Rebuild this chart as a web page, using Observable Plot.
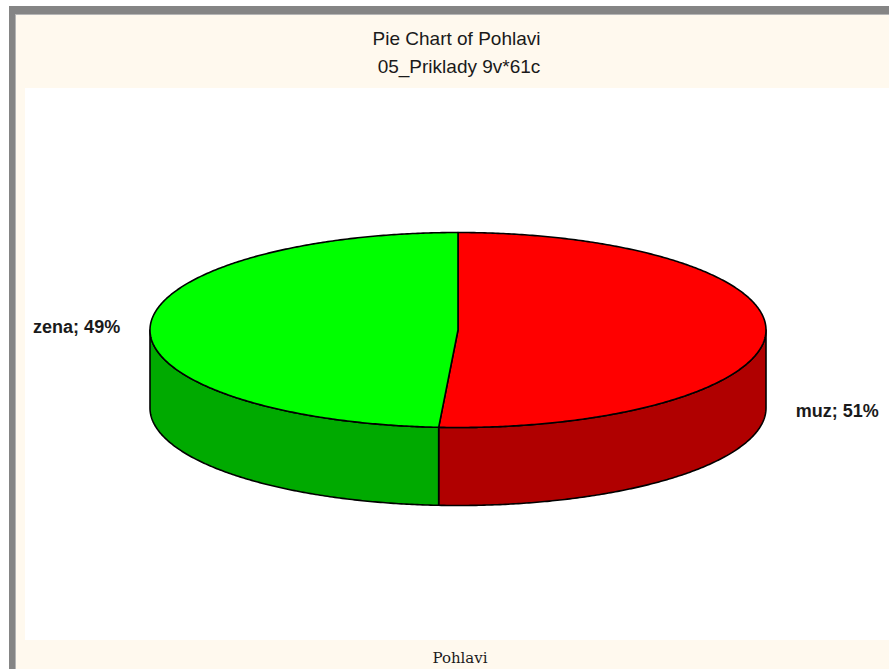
<!DOCTYPE html>
<html>
<head>
<meta charset="utf-8">
<script src="https://cdn.jsdelivr.net/npm/d3@7"></script>
<script src="https://cdn.jsdelivr.net/npm/@observablehq/plot@0.6"></script>
<style>
  html, body { margin: 0; padding: 0; background: #ffffff; width: 889px; height: 669px; overflow: hidden; position: relative; }
  #frame { position: absolute; left: 9px; top: 6px; width: 900px; height: 680px;
           background: #fff9ee; border-left: 6px solid #858585; border-top: 8px solid #858585;
           box-shadow: inset 1px 1px 0 #b5b5b5; }
  .t { position: absolute; width: 600px; text-align: center; font-family: "Liberation Sans", Arial, sans-serif;
       font-size: 19px; line-height: 19px; color: #1a1a1a; white-space: nowrap; }
  #plot { position: absolute; left: 25px; top: 88px; width: 864px; height: 552px; background: #ffffff; }
  #foot { position: absolute; left: 160px; width: 600px; top: 649px; text-align: center;
          font-family: "DejaVu Serif", "Liberation Serif", serif; font-size: 15px; line-height: 18px; color: #1a1a1a; }
</style>
</head>
<body>
<div id="frame"></div>
<div class="t" style="left:156.5px; top:29px;">Pie Chart of Pohlavi</div>
<div class="t" style="left:159px; top:57px;">05_Priklady 9v*61c</div>
<div id="plot"></div>
<div id="foot">Pohlavi</div>
<script>
// ---- data ----
const categories = ["muz", "zena"];
const percents = [51, 49];
const labels = ["muz; 51%", "zena; 49%"];
// ---- palette ----
const topColors = ["#ff0000", "#00ff00"];
const sideColors = ["#b00000", "#00aa00"];

// ---- 3D projection settings (unit radius) ----
const TILT = 97.5 / 308;   // vertical squash of the disc
const DEPTH = 78 / 308;    // thickness of the disc

const total = d3.sum(percents);
const slices = [];
let acc = 0;
categories.forEach((c, i) => {
  const a0 = acc / total * 2 * Math.PI;
  acc += percents[i];
  const a1 = acc / total * 2 * Math.PI;
  slices.push({cat: c, a0, a1, i});
});

const pt = (t, drop) => ({x: Math.sin(t), y: -TILT * Math.cos(t) + drop});
function arc(a, b, drop) {
  const n = Math.max(2, Math.ceil(Math.abs(b - a) / (Math.PI / 360)));
  const out = [];
  for (let k = 0; k <= n; k++) out.push(pt(a + (b - a) * k / n, drop));
  return out;
}

const marks = [];
// side faces (front half only)
slices.forEach(s => {
  const a = Math.max(s.a0, Math.PI / 2), b = Math.min(s.a1, 3 * Math.PI / 2);
  if (b > a) {
    const poly = [...arc(a, b, 0), ...arc(b, a, DEPTH)];
    poly.push(poly[0]);
    marks.push(Plot.line(poly, {x: "x", y: "y", fill: sideColors[s.i], stroke: "#000", strokeWidth: 1.6,
      strokeLinejoin: "round", curve: "linear"}));
  }
});
// top faces
slices.forEach(s => {
  const poly = [{x: 0, y: 0}, ...arc(s.a0, s.a1, 0), {x: 0, y: 0}];
  marks.push(Plot.line(poly, {x: "x", y: "y", fill: topColors[s.i], stroke: "#000", strokeWidth: 1.6,
    strokeLinejoin: "round", curve: "linear"}));
});
// labels
slices.forEach(s => {
  const m = (s.a0 + s.a1) / 2;
  const c = Math.cos(m), sn = Math.sin(m);
  const d = [{x: sn, y: -TILT * c + (c < 0 ? DEPTH : 0), label: labels[s.i]}];
  marks.push(Plot.text(d, {x: "x", y: "y", text: "label", dx: sn >= 0 ? 30 : -30,
    textAnchor: sn >= 0 ? "start" : "end", lineAnchor: "middle",
    fontSize: 18, fontWeight: "bold", fill: "#1a1a1a"}));
});

const chart = Plot.plot({
  width: 864,
  height: 552,
  margin: 0,
  style: {background: "#ffffff", fontFamily: "'Liberation Sans', Arial, sans-serif", overflow: "visible"},
  x: {domain: [-1, 1], range: [124.5, 740.5], axis: null},
  y: {domain: [-1, 1], range: [241.5 - 308, 241.5 + 308], axis: null},
  marks
});
document.getElementById("plot").appendChild(chart);
</script>
</body>
</html>
